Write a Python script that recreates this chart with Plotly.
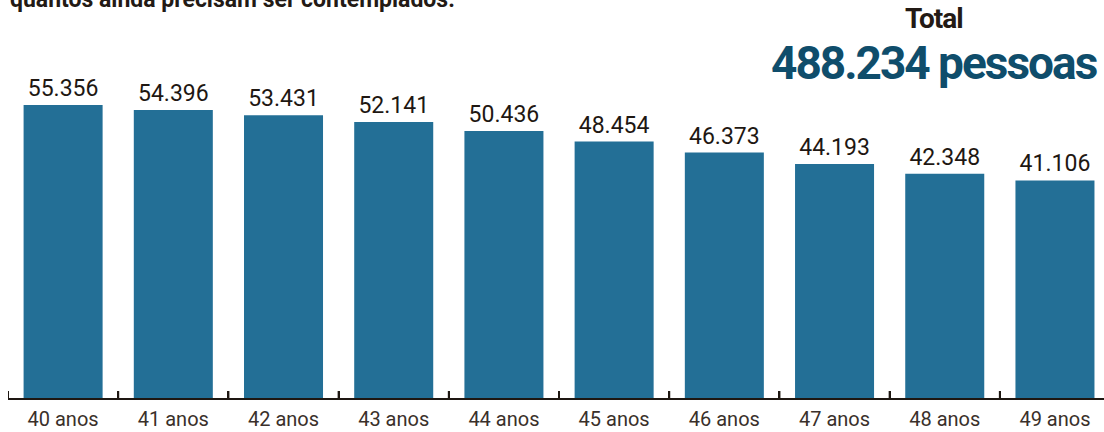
import plotly.graph_objects as go

categories = ["40 anos", "41 anos", "42 anos", "43 anos", "44 anos",
              "45 anos", "46 anos", "47 anos", "48 anos", "49 anos"]
values = [55356, 54396, 53431, 52141, 50436, 48454, 46373, 44193, 42348, 41106]
total_label = "488.234 pessoas"
subtitle = "quantos ainda precisam ser contemplados."

labels = [f"{v:,}".replace(",", ".") for v in values]

fig = go.Figure(go.Bar(
    x=categories, y=values,
    marker=dict(color="#236F96", line=dict(width=0)),
    text=labels, textposition="outside", cliponaxis=False,
    textfont=dict(family="Roboto", size=23, color="#1E1712"),
))

fig.update_layout(
    width=1104, height=432,
    margin=dict(l=8, r=0, t=0, b=34),
    paper_bgcolor="white", plot_bgcolor="white",
    bargap=0.283, showlegend=False,
    xaxis=dict(type="category", range=[-0.5, 9.445],
               showline=True, linecolor="#1E1712", linewidth=2,
               ticks="inside", ticklen=7, tickwidth=2, tickcolor="#1E1712",
               tickson="boundaries", showgrid=False, zeroline=False,
               ticklabelstandoff=2,
               tickfont=dict(family="Roboto", size=20, color="#3A302A")),
    yaxis=dict(range=[0, 75200], visible=False, showgrid=False),
)

# category-boundary tick marks pointing up from the axis line
for i in range(len(categories)):
    fig.add_shape(type="line", xref="x", yref="paper",
                  x0=i - 0.5, x1=i - 0.5, ysizemode="pixel", yanchor=0,
                  y0=0, y1=7, line=dict(color="#1E1712", width=2), layer="above")

fig.add_annotation(text=subtitle, xref="paper", yref="paper", x=0.0, y=1,
                   xanchor="left", yanchor="middle", yshift=1, showarrow=False,
                   font=dict(family="Roboto", size=23, color="#231A15", weight="bold"))
fig.add_annotation(text="<span style='letter-spacing:-1px'>Total</span>",
                   xref="paper", yref="paper", x=0.845, y=1,
                   xanchor="center", yanchor="top", yshift=0, showarrow=False,
                   font=dict(family="Roboto", size=28, color="#231A15", weight="bold"))
fig.add_annotation(text=f"<span style='letter-spacing:-2px'>{total_label}</span>",
                   xref="paper", yref="paper", x=1, y=1,
                   xanchor="right", yanchor="top", yshift=-34, xshift=-5, showarrow=False,
                   font=dict(family="Roboto", size=46, color="#0F4D6B", weight="bold"))

fig.write_html("out.html", config={"displayModeBar": False},
               post_script="document.body.style.margin='0';")
